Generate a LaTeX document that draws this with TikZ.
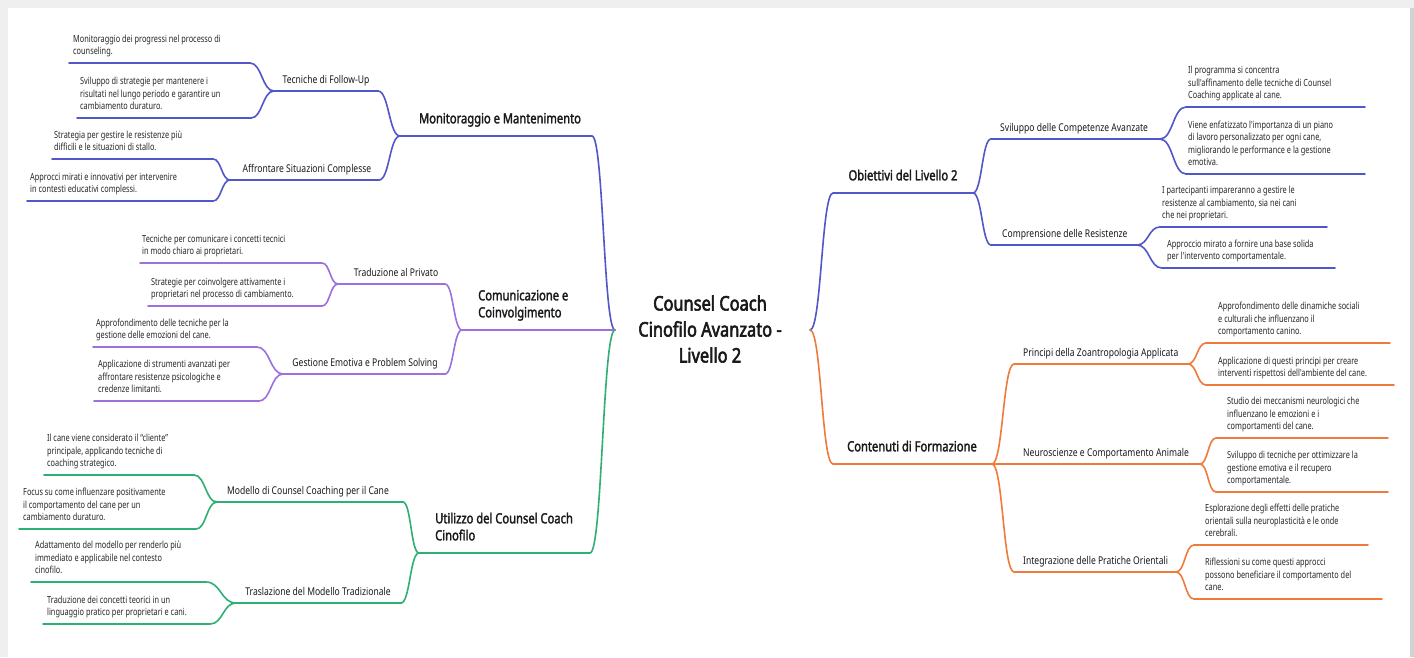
\documentclass[tikz,border=0pt]{standalone}
\usepackage{fontspec}
\setmainfont{Noto Sans}[FakeStretch=0.8]
\newfontfamily\leaffont{Noto Sans}[FakeStretch=0.75]
\newfontfamily\headfont{Noto Sans}[FakeStretch=0.8,FakeBold=2]
\newfontfamily\titlefont{Noto Sans}[FakeStretch=0.82,FakeBold=2.8]
\usetikzlibrary{calc}
\definecolor{blueC}{HTML}{5157C8}
\definecolor{purpC}{HTML}{9C70DD}
\definecolor{greenC}{HTML}{2EAF74}
\definecolor{orngC}{HTML}{EE7B3C}
\definecolor{leafC}{HTML}{262626}
\definecolor{headC}{HTML}{1A1A1A}
\definecolor{frameC}{HTML}{EFEFEF}
\tikzset{
  bl/.style={draw=blueC, line width=1.6pt, line cap=round},
  pu/.style={draw=purpC, line width=1.6pt, line cap=round},
  gr/.style={draw=greenC, line width=1.6pt, line cap=round},
  or/.style={draw=orngC, line width=1.6pt, line cap=round},
  leaf/.style={anchor=south west, inner sep=0pt, text depth=0pt, align=left, text=leafC, font=\leaffont\fontsize{9.8}{12.3}\selectfont},
  sublab/.style={inner sep=0pt, text depth=0pt, text=headC, font=\fontsize{10.7}{13}\selectfont},
  mainlab/.style={inner sep=0pt, text depth=0pt, align=left, text=headC, font=\headfont\fontsize{14}{17}\selectfont},
  titlelab/.style={inner sep=0pt, align=center, text=headC, font=\titlefont\fontsize{20}{26}\selectfont}
}
\newcommand{\bcurve}[3]{\draw[#1] let \p1=(#2), \p2=(#3) in (#2) .. controls ({\x1+0.5*(\x2-\x1)},\y1) and ({\x2-0.5*(\x2-\x1)},\y2) .. (#3);}
% left leaf: color, name, xs, xe, y, textx, junction, text
\newcommand{\leafL}[8]{%
  \coordinate (#2-s) at (#3,#5); \coordinate (#2-e) at (#4,#5);
  \draw[#1] (#2-s) -- (#2-e);
  \bcurve{#1}{#2-e}{#7}
  \node[leaf] (#2) at (#6,#5-8.5) {#8};}
\newcommand{\leafR}[8]{%
  \coordinate (#2-s) at (#3,#5); \coordinate (#2-e) at (#4,#5);
  \bcurve{#1}{#7}{#2-s}
  \draw[#1] (#2-s) -- (#2-e);
  \node[leaf] (#2) at (#6,#5-8.5) {#8};}
% sub left: color, name, xs, xe, y, label center x, parent, text
\newcommand{\subL}[8]{%
  \coordinate (#2-s) at (#3,#5); \coordinate (#2-e) at (#4,#5);
  \draw[#1] (#2-s) -- (#2-e);
  \bcurve{#1}{#2-e}{#7}
  \node[sublab, anchor=south] (#2) at (#6,#5-7.5) {#8};}
\newcommand{\subR}[8]{%
  \coordinate (#2-s) at (#3,#5); \coordinate (#2-e) at (#4,#5);
  \bcurve{#1}{#7}{#2-s}
  \draw[#1] (#2-s) -- (#2-e);
  \node[sublab, anchor=south west] (#2) at (#6,#5-7.5) {#8};}
\begin{document}
\begin{tikzpicture}[x=1pt,y=-1pt]
\useasboundingbox (0,0) rectangle (1414,657);
\fill[frameC] (0,0) rectangle (1414,657);
\fill[white] (8,8) rectangle (1410,657);
\fill[gray!35] (1410,8) rectangle (1414,657);

% centre
\node[titlelab] (title) at (710,329) {Counsel Coach\\Cinofilo Avanzato -\\Livello 2};
\coordinate (cL) at (615,330);
\coordinate (cR) at (810,330);

% ---- Monitoraggio e Mantenimento
\coordinate (mL) at (400,136); \coordinate (mR) at (592,136);
\draw[bl] (mL) -- (mR); \bcurve{bl}{mR}{cL}
\node[mainlab, anchor=south] (mlab) at (500,136-12.5) {Monitoraggio e Mantenimento};
\subL{bl}{tf}{274}{378}{91}{326}{mL}{Tecniche di Follow-Up}
\leafL{bl}{tf1}{69}{250}{63}{73}{tf-s}{Monitoraggio dei progressi nel processo di\\counseling.}
\leafL{bl}{tf2}{77}{251}{118}{80}{tf-s}{Sviluppo di strategie per mantenere i\\risultati nel lungo periodo e garantire un\\cambiamento duraturo.}
\subL{bl}{as}{230}{379}{180}{307}{mL}{Affrontare Situazioni Complesse}
\leafL{bl}{as1}{52}{213}{159}{54}{as-s}{Strategia per gestire le resistenze più\\difficili e le situazioni di stallo.}
\leafL{bl}{as2}{27}{213}{201}{30}{as-s}{Approcci mirati e innovativi per intervenire\\in contesti educativi complessi.}

% ---- Comunicazione e Coinvolgimento
\coordinate (cm-s) at (462,330);
\draw[pu] (cm-s) -- (cL);
\node[mainlab, anchor=south west] (cmlab) at (478,330-12.5) {Comunicazione e\\Coinvolgimento};
\subL{pu}{tp}{338}{445}{284}{396}{cm-s}{Traduzione al Privato}
\leafL{pu}{tp1}{140}{322}{263}{142}{tp-s}{Tecniche per comunicare i concetti tecnici\\in modo chiaro ai proprietari.}
\leafL{pu}{tp2}{148}{322}{306}{151}{tp-s}{Strategie per coinvolgere attivamente i\\proprietari nel processo di cambiamento.}
\subL{pu}{ge}{283}{445}{374}{365}{cm-s}{Gestione Emotiva e Problem Solving}
\leafL{pu}{ge1}{93}{257}{347}{96}{ge-s}{Approfondimento delle tecniche per la\\gestione delle emozioni del cane.}
\leafL{pu}{ge2}{94}{259}{401}{98}{ge-s}{Applicazione di strumenti avanzati per\\affrontare resistenze psicologiche e\\credenze limitanti.}

% ---- Utilizzo del Counsel Coach Cinofilo
\coordinate (um-s) at (419,553); \coordinate (um-e) at (590,553);
\draw[gr] (um-s) -- (um-e); \bcurve{gr}{um-e}{cL}
\node[mainlab, anchor=south west] (umlab) at (435,553-12.5) {Utilizzo del Counsel Coach\\Cinofilo};
\subL{gr}{mc}{217}{403}{502}{308}{um-s}{Modello di Counsel Coaching per il Cane}
\leafL{gr}{mc1}{44}{194}{475}{47}{mc-s}{Il cane viene considerato il “cliente”\\principale, applicando tecniche di\\coaching strategico.}
\leafL{gr}{mc2}{19}{196}{529}{23}{mc-s}{Focus su come influenzare positivamente\\il comportamento del cane per un\\cambiamento duraturo.}
\subL{gr}{tm}{236}{401}{603}{318}{um-s}{Traslazione del Modello Tradizionale}
\leafL{gr}{tm1}{31}{206}{582}{35}{tm-s}{Adattamento del modello per renderlo più\\immediato e applicabile nel contesto\\cinofilo.}
\leafL{gr}{tm2}{43}{210}{624}{47}{tm-s}{Traduzione dei concetti teorici in un\\linguaggio pratico per proprietari e cani.}

% ---- Obiettivi del Livello 2
\coordinate (om-s) at (833,193); \coordinate (om-e) at (973,193);
\bcurve{bl}{cR}{om-s} \draw[bl] (om-s) -- (om-e);
\node[mainlab, anchor=south] (omlab) at (903,193-12.5) {Obiettivi del Livello 2};
\subR{bl}{sc}{991}{1160}{139}{1000}{om-e}{Sviluppo delle Competenze Avanzate}
\leafR{bl}{sc1}{1186}{1365}{107}{1188}{sc-e}{Il programma si concentra\\sull'affinamento delle tecniche di Counsel\\Coaching applicate al cane.}
\leafR{bl}{sc2}{1186}{1365}{174}{1188}{sc-e}{Viene enfatizzato l'importanza di un piano\\di lavoro personalizzato per ogni cane,\\migliorando le performance e la gestione\\emotiva.}
\subR{bl}{cr}{991}{1137}{245}{1002}{om-e}{Comprensione delle Resistenze}
\leafR{bl}{cr1}{1160}{1327}{227}{1162}{cr-e}{I partecipanti impareranno a gestire le\\resistenze al cambiamento, sia nei cani\\che nei proprietari.}
\leafR{bl}{cr2}{1162}{1335}{268}{1167}{cr-e}{Approccio mirato a fornire una base solida\\per l'intervento comportamentale.}

% ---- Contenuti di Formazione
\coordinate (cn-s) at (833,464); \coordinate (cn-e) at (992,464);
\bcurve{or}{cR}{cn-s} \draw[or] (cn-s) -- (cn-e);
\node[mainlab, anchor=south] (cnlab) at (912,464-12.5) {Contenuti di Formazione};
\subR{or}{pz}{1014}{1188}{364}{1023}{cn-e}{Principi della Zoantropologia Applicata}
\leafR{or}{pz1}{1206}{1390}{343}{1218}{pz-e}{Approfondimento delle dinamiche sociali\\e culturali che influenzano il\\comportamento canino.}
\leafR{or}{pz2}{1206}{1394}{385}{1218}{pz-e}{Applicazione di questi principi per creare\\interventi rispettosi dell'ambiente del cane.}
\subR{or}{nc}{1000}{1200}{464}{1023}{cn-e}{Neuroscienze e Comportamento Animale}
\leafR{or}{nc1}{1216}{1388}{438}{1227}{nc-e}{Studio dei meccanismi neurologici che\\influenzano le emozioni e i\\comportamenti del cane.}
\leafR{or}{nc2}{1216}{1388}{492}{1227}{nc-e}{Sviluppo di tecniche per ottimizzare la\\gestione emotiva e il recupero\\comportamentale.}
\subR{or}{ip}{1014}{1176}{572}{1023}{cn-e}{Integrazione delle Pratiche Orientali}
\leafR{or}{ip1}{1194}{1368}{545}{1205}{ip-e}{Esplorazione degli effetti delle pratiche\\orientali sulla neuroplasticità e le onde\\cerebrali.}
\leafR{or}{ip2}{1194}{1382}{599}{1205}{ip-e}{Riflessioni su come questi approcci\\possono beneficiare il comportamento del\\cane.}
\end{tikzpicture}
\end{document}
